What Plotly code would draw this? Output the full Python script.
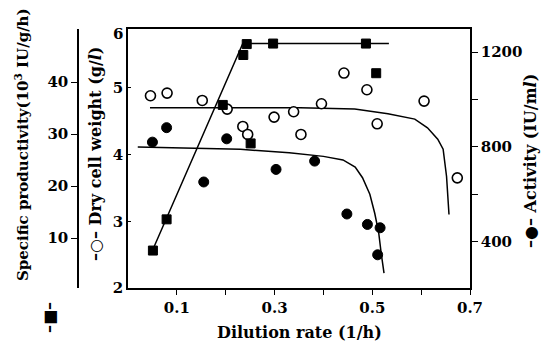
import plotly.graph_objects as go

# ---- data ----
# Dry cell weight (g/l), open circles
dcw_x = [0.046, 0.080, 0.152, 0.203, 0.235, 0.245, 0.299, 0.339, 0.354, 0.396, 0.442, 0.489, 0.510, 0.606, 0.674]
dcw_y = [4.88, 4.92, 4.81, 4.68, 4.42, 4.30, 4.56, 4.64, 4.30, 4.76, 5.22, 4.97, 4.46, 4.80, 3.65]
dcw_fit_x = [0.045, 0.352, 0.464, 0.532, 0.587, 0.613, 0.634, 0.645, 0.652, 0.657]
dcw_fit_y = [4.70, 4.70, 4.68, 4.61, 4.53, 4.40, 4.23, 4.08, 3.67, 3.10]

# Activity (IU/ml), filled circles
act_x = [0.050, 0.079, 0.155, 0.202, 0.303, 0.382, 0.448, 0.490, 0.516, 0.511]
act_y = [820, 881, 652, 834, 705, 740, 517, 473, 459, 345]
act_fit_x = [0.020, 0.230, 0.330, 0.400, 0.440, 0.465, 0.480, 0.495, 0.505, 0.513, 0.518, 0.524]
act_fit_y = [800, 790, 775, 760, 745, 715, 670, 600, 520, 440, 355, 268]

# Specific productivity (10^3 IU/g/h), filled squares
sp_x = [0.051, 0.079, 0.194, 0.236, 0.243, 0.251, 0.297, 0.487, 0.508]
sp_y = [7.6, 13.6, 35.6, 45.2, 47.3, 28.2, 47.4, 47.4, 41.7]
sp_fit_x = [0.050, 0.235, 0.534]
sp_fit_y = [7.6, 47.4, 47.4]

x_tickvals = [0.1, 0.2, 0.3, 0.4, 0.5, 0.6, 0.7]
x_ticktext = ["0.1", "", "0.3", "", "0.5", "", "0.7"]
dcw_ticks = [2, 3, 4, 5]
act_tickvals = [400, 600, 800, 1000, 1200]
act_ticktext = ["400", "", "800", "", "1200"]
sp_ticks = [10, 20, 30, 40]

FONT = "DejaVu Serif"
tf = dict(family=FONT, size=15, color="black", weight="bold")

fig = go.Figure()
lw = dict(color="black", width=1.5)
fig.add_trace(go.Scatter(x=dcw_fit_x, y=dcw_fit_y, mode="lines", line=lw, yaxis="y", hoverinfo="skip"))
fig.add_trace(go.Scatter(x=act_fit_x, y=act_fit_y, mode="lines", line=lw, yaxis="y2", hoverinfo="skip"))
fig.add_trace(go.Scatter(x=sp_fit_x, y=sp_fit_y, mode="lines", line=lw, yaxis="y3", hoverinfo="skip"))

fig.add_trace(go.Scatter(x=dcw_x, y=dcw_y, mode="markers", yaxis="y",
                         marker=dict(symbol="circle", size=10, color="white",
                                     line=dict(color="black", width=1.6))))
fig.add_trace(go.Scatter(x=act_x, y=act_y, mode="markers", yaxis="y2",
                         marker=dict(symbol="circle", size=10, color="black",
                                     line=dict(color="black", width=1))))
fig.add_trace(go.Scatter(x=sp_x, y=sp_y, mode="markers", yaxis="y3",
                         marker=dict(symbol="square", size=9, color="black",
                                     line=dict(color="black", width=1))))

L = 60
W = 547 - L - 77
def px(xpix):
    return (xpix - L) / W

def py(ypix):
    return (288 - ypix) / 259

fig.update_layout(
    width=547, height=347,
    margin=dict(l=L, r=77, t=29, b=59, autoexpand=False),
    paper_bgcolor="white", plot_bgcolor="white",
    showlegend=False,
    font=dict(family=FONT, color="black"),
    xaxis=dict(domain=[px(128), 1], range=[0, 0.7], tickvals=x_tickvals, ticktext=x_ticktext,
               ticks="outside", ticklen=5, tickwidth=1.2, tickcolor="black",
               showline=True, linecolor="black", linewidth=1.5, mirror=True,
               showgrid=False, zeroline=False, tickfont=tf, automargin=False),
    yaxis=dict(range=[2, 5.88], tickvals=dcw_ticks, ticks="inside", ticklen=3,
               tickcolor="black", showline=True, linecolor="black", linewidth=1.5,
               showgrid=False, zeroline=False, tickfont=tf, automargin=False),
    yaxis2=dict(range=[205, 1297], overlaying="y", side="right", anchor="x",
                tickvals=act_tickvals, ticktext=act_ticktext, ticks="outside", ticklen=6,
                tickwidth=1.2, tickcolor="black", showline=True, linecolor="black", linewidth=1.5,
                showgrid=False, zeroline=False, tickfont=tf, automargin=False),
    yaxis3=dict(range=[0.4, 50.2], overlaying="y", side="left", anchor="free",
                position=px(78), tickvals=sp_ticks, ticks="outside", ticklen=6,
                tickwidth=1.2, tickcolor="black", showline=True, linecolor="black", linewidth=1.5,
                showgrid=False, zeroline=False, tickfont=tf, automargin=False),
)

af = dict(family=FONT, size=16, color="black", weight="bold")
fig.add_annotation(text="Dilution rate (1/h)", xref="paper", yref="paper",
                   x=px(299), y=py(332), showarrow=False, font=af,
                   xanchor="center", yanchor="middle")
fig.add_annotation(text="6", xref="paper", yref="paper", x=px(118), y=py(34),
                   showarrow=False, font=tf, xanchor="center", yanchor="middle")
fig.add_annotation(text="–●– Activity (IU/m<i>l</i>)", xref="paper", yref="paper",
                   x=px(530), y=py(161), textangle=-90, showarrow=False, font=af,
                   xanchor="center", yanchor="middle")
fig.add_annotation(text="–○– Dry cell weight (g/<i>l</i>)", xref="paper", yref="paper",
                   x=px(95), y=py(154), textangle=-90, showarrow=False, font=af,
                   xanchor="center", yanchor="middle")
fig.add_annotation(text="Specific productivity(10<sup>3</sup> IU/g/h)", xref="paper", yref="paper",
                   x=px(22), y=py(145), textangle=-90, showarrow=False,
                   font=dict(family=FONT, size=15, color="black", weight="bold"),
                   xanchor="center", yanchor="middle")
fig.add_annotation(text="–■–", xref="paper", yref="paper",
                   x=px(49), y=py(318), textangle=-90, showarrow=False, font=af,
                   xanchor="center", yanchor="middle")

fig.write_html("out.html", config={"displayModeBar": False},
               post_script="document.body.style.margin='0';")
